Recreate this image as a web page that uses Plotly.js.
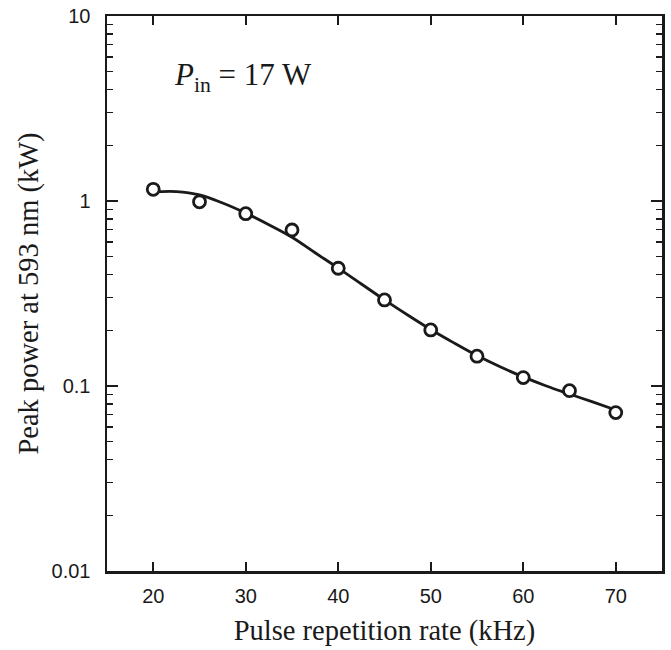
<!DOCTYPE html>
<html><head><meta charset="utf-8">
<script src="https://cdn.plot.ly/plotly-3.0.1.min.js"></script>
<style>html,body{margin:0;padding:0;background:#fff}</style>
</head><body>
<div id="chart" style="width:671px;height:650px"></div>
<script>
// Measured points
const rateKHz = [20, 25, 30, 35, 40, 45, 50, 55, 60, 65, 70];
const peakPowerKW = [1.157, 0.99, 0.854, 0.697, 0.433, 0.292, 0.201, 0.145, 0.111, 0.0944, 0.0718];
// Fitted curve
const fitRate = [20, 22.5, 25, 27.5, 30, 32.5, 35, 37.5, 40, 42.5, 45, 47.5, 50, 52.5, 55, 57.5, 60, 62.5, 65, 67.5, 70];
const fitPower = [1.12, 1.125, 1.08, 0.975, 0.86, 0.745, 0.637, 0.525, 0.434, 0.356, 0.292, 0.242, 0.202, 0.171, 0.146, 0.127, 0.112, 0.1, 0.0905, 0.082, 0.0742];
const xTickVals = [20, 30, 40, 50, 60, 70];
const yTickVals = [0.01, 0.1, 1, 10];
const yTickText = ['0.01', '0.1', '1', '10'];
const yMinorVals = [];
[0.01, 0.1, 1].forEach(d => { for (let k = 2; k <= 9; k++) yMinorVals.push(+(d * k).toPrecision(3)); });

const ink = '#1a1a1a';
const serif = 'Liberation Serif, Times New Roman, serif';
const sans = 'Liberation Sans, Arial, sans-serif';
const traces = [
  {x: fitRate, y: fitPower, type: 'scatter', mode: 'lines',
   line: {color: ink, width: 2.8, shape: 'spline'}, hoverinfo: 'skip'},
  {x: rateKHz, y: peakPowerKW, type: 'scatter', mode: 'markers',
   marker: {symbol: 'circle', size: 12, color: '#fff', line: {color: ink, width: 2.8}}},
  {x: [null], y: [null], yaxis: 'y2', type: 'scatter', mode: 'markers', showlegend: false}
];
const layout = {
  width: 671, height: 650,
  margin: {l: 107, r: 9, t: 16, b: 79},
  paper_bgcolor: '#fff', plot_bgcolor: '#fff',
  showlegend: false,
  xaxis: {
    range: [15, 75], tickvals: xTickVals, ticks: 'inside', ticklen: 9, tickwidth: 2.2,
    tickcolor: ink, showline: true, linecolor: ink, linewidth: 2.5, mirror: 'ticks',
    showgrid: false, zeroline: false,
    tickfont: {family: sans, size: 20, color: ink},
    ticklabelstandoff: 5,
    title: {text: 'Pulse repetition rate (kHz)', standoff: 15,
            font: {family: serif, size: 28.5, color: ink}}
  },
  yaxis: {
    type: 'log', range: [-2, 1], tickvals: yTickVals, ticktext: yTickText,
    ticks: 'inside', ticklen: 11, tickwidth: 2.2, tickcolor: ink,
    showline: true, linecolor: ink, linewidth: 2.5, mirror: 'ticks',
    showgrid: false, zeroline: false,
    tickfont: {family: sans, size: 20, color: ink},
    ticklabelstandoff: 10,
    title: {text: 'Peak power at 593 nm (kW)', standoff: 5,
            font: {family: serif, size: 28.5, color: ink}}
  },
  yaxis2: {
    type: 'log', range: [-2, 1], overlaying: 'y', side: 'left', tickvals: yMinorVals,
    ticks: 'inside', ticklen: 6, tickwidth: 1.5, tickcolor: ink, showticklabels: false,
    mirror: 'ticks', showline: false, showgrid: false, zeroline: false
  },
  annotations: [{
    xref: 'paper', yref: 'paper', x: 0.117, y: 0.89, xanchor: 'left', yanchor: 'middle',
    showarrow: false, text: '<i>P</i><sub>in</sub> = 17 W',
    font: {family: serif, size: 31, color: ink}
  }]
};
Plotly.newPlot('chart', traces, layout, {displayModeBar: false, staticPlot: true});
</script>
</body></html>
